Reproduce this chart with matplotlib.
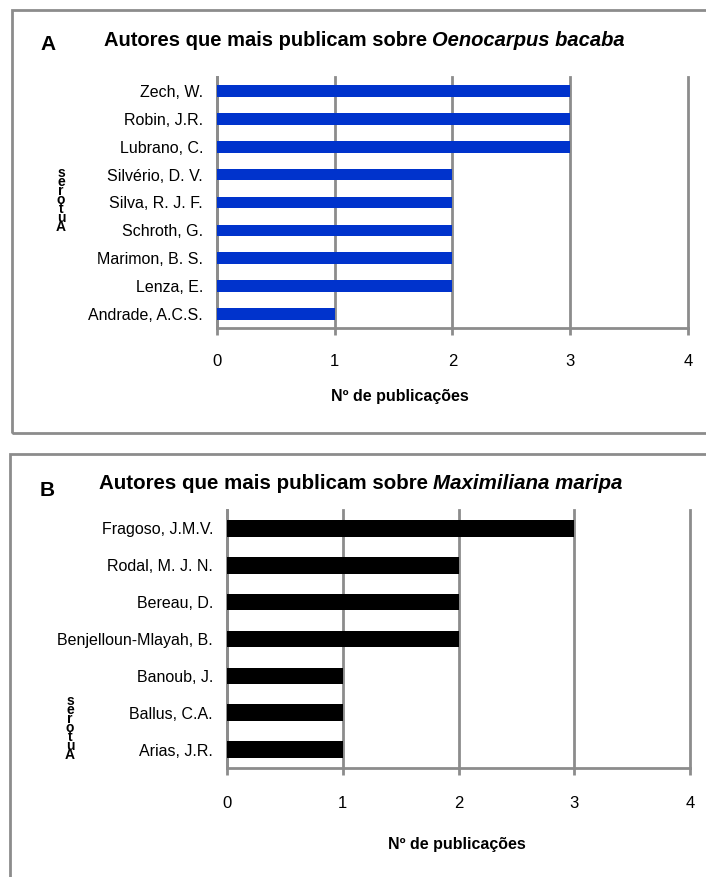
import matplotlib
matplotlib.use("Agg")
import matplotlib.pyplot as plt
from matplotlib.patches import Rectangle
from matplotlib import font_manager

names = {f.name for f in font_manager.fontManager.ttflist}
FONT = "Liberation Sans Narrow" if "Liberation Sans Narrow" in names else "Liberation Sans"
plt.rcParams['font.family'] = [FONT, 'DejaVu Sans']

# Data
authors_a = ["Andrade, A.C.S.", "Lenza, E.", "Marimon, B. S.", "Schroth, G.",
             "Silva, R. J. F.", "Silvério, D. V.", "Lubrano, C.", "Robin, J.R.", "Zech, W."]
values_a = [1, 2, 2, 2, 2, 2, 3, 3, 3]
authors_b = ["Arias, J.R.", "Ballus, C.A.", "Banoub, J.", "Benjelloun-Mlayah, B.",
             "Bereau, D.", "Rodal, M. J. N.", "Fragoso, J.M.V."]
values_b = [1, 1, 1, 2, 2, 2, 3]
xticks = [0, 1, 2, 3, 4]
title_a = ("Autores que mais publicam sobre ", "Oenocarpus bacaba")
title_b = ("Autores que mais publicam sobre ", "Maximiliana maripa")
xlabel = "Nº de publicações"
ylabel = "Autores"

W, H = 706, 877
fig = plt.figure(figsize=(W / 100, H / 100), dpi=100)
GRID = "#8c8c8c"

# Frames
fig.patches.append(Rectangle((12 / W, 1 - 433 / H), 2, (433 - 10) / H,
                             transform=fig.transFigure, fill=False,
                             edgecolor=GRID, linewidth=2, clip_on=False))
fig.patches.append(Rectangle((10 / W, -0.1), 2, 0.1 + (H - 454) / H,
                             transform=fig.transFigure, fill=False,
                             edgecolor=GRID, linewidth=2, clip_on=False))


def px_axes(left, right, top, bottom):
    return fig.add_axes([left / W, 1 - bottom / H, (right - left) / W, (bottom - top) / H])


def draw(ax, names_, vals, color, bar_h, fs, pad):
    y = list(range(len(names_)))
    ax.barh(y, vals, height=bar_h, color=color, zorder=3)
    ax.set_xlim(0, 4)
    ax.set_ylim(-0.5, len(names_) - 0.5)
    ax.set_xticks(xticks)
    ax.set_xticklabels([str(t) for t in xticks], fontsize=12)
    ax.set_yticks(y)
    ax.set_yticklabels(names_, fontsize=fs)
    ax.xaxis.grid(True, color=GRID, linewidth=2, zorder=0)
    for line in ax.get_xgridlines():
        line.set_clip_on(False)
    for s in ["top", "right"]:
        ax.spines[s].set_visible(False)
    for s in ["left", "bottom"]:
        ax.spines[s].set_color(GRID)
        ax.spines[s].set_linewidth(2)
    ax.tick_params(axis="y", length=0, pad=10)
    ax.tick_params(axis="x", length=5, width=2, color=GRID, pad=pad)


def title(x, y, parts, fs):
    t1 = fig.text(x / W, 1 - y / H, parts[0], fontsize=fs, fontweight="bold",
                  va="center", ha="left")
    fig.canvas.draw()
    r = t1.get_window_extent()
    fig.text((r.x1 - 1) / W, 1 - y / H, parts[1], fontsize=fs, fontweight="bold",
             fontstyle="italic", va="center", ha="left")


# Panel A
axA = px_axes(217, 688, 77, 328)
draw(axA, authors_a, values_a, "#0033cc", 0.42, 11.5, 13.5)
axA.set_xlabel(xlabel, fontsize=11.5, fontweight="bold", labelpad=16.5)
axA.xaxis.set_label_coords((400 - 217) / (688 - 217), -0.3)
axA.xaxis.label.set_va("center")
axA.xaxis.label.set_position(((400 - 217) / (688 - 217), 0))
axA.xaxis.set_label_coords((400 - 217) / (688 - 217), -(397 - 328) / (328 - 77))
fig.text(40 / W, 1 - 45 / H, "A", fontsize=15, fontweight="bold", va="center", ha="left")
title(104, 41, title_a, 14.5)
fig.text(61 / W, 1 - 200 / H, "\n".join(reversed(ylabel)), fontsize=10, fontweight="bold",
         va="center", ha="center", linespacing=0.55)

# Panel B
axB = px_axes(227, 690, 510, 768)
draw(axB, authors_b, values_b, "black", 0.45, 11.5, 15.5)
axB.set_xlabel(xlabel, fontsize=11.5, fontweight="bold")
axB.xaxis.label.set_va("center")
axB.xaxis.set_label_coords((457 - 227) / (690 - 227), -(845 - 768) / (768 - 510))
fig.text(40 / W, 1 - 490 / H, "B", fontsize=15, fontweight="bold", va="center", ha="left")
title(99, 484, title_b, 14.8)
fig.text(70 / W, 1 - 728 / H, "\n".join(reversed(ylabel)), fontsize=10, fontweight="bold",
         va="center", ha="center", linespacing=0.55)

fig.savefig("out.png", dpi=100)
